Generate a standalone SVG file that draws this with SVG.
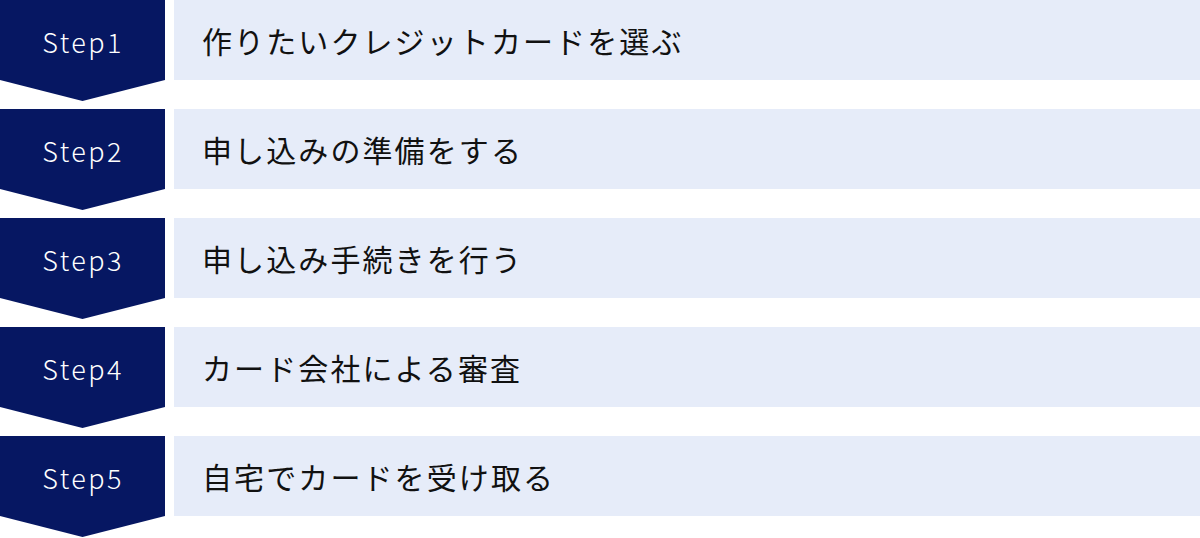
<svg xmlns="http://www.w3.org/2000/svg" width="1200" height="538" viewBox="0 0 1200 538">
<style>
.badge{fill:#061762}
.bar{fill:#E6ECF9}
.step{font-family:"Noto Sans CJK JP","Noto Sans",sans-serif;font-size:27px;font-weight:300;fill:#ffffff;letter-spacing:2.4px;text-anchor:middle;dominant-baseline:central}
.label{font-family:"Noto Sans CJK JP","Noto Sans",sans-serif;font-size:30px;fill:#111111;letter-spacing:2.1px;dominant-baseline:central}
</style>
<defs>
<polygon id="chev" points="0,0 165,0 165,80 82.5,101 0,80"/>
</defs>
<g id="step1" transform="translate(0,0)">
<use href="#chev" class="badge"/>
<rect class="bar" x="174" y="0" width="1026" height="80"/>
<text class="step" x="83" y="41">Step1</text>
<text class="label" x="202" y="40">作りたいクレジットカードを選ぶ</text>
</g>
<g id="step2" transform="translate(0,109)">
<use href="#chev" class="badge"/>
<rect class="bar" x="174" y="0" width="1026" height="80"/>
<text class="step" x="83" y="41">Step2</text>
<text class="label" x="202" y="40">申し込みの準備をする</text>
</g>
<g id="step3" transform="translate(0,218)">
<use href="#chev" class="badge"/>
<rect class="bar" x="174" y="0" width="1026" height="80"/>
<text class="step" x="83" y="41">Step3</text>
<text class="label" x="202" y="40">申し込み手続きを行う</text>
</g>
<g id="step4" transform="translate(0,327)">
<use href="#chev" class="badge"/>
<rect class="bar" x="174" y="0" width="1026" height="80"/>
<text class="step" x="83" y="41">Step4</text>
<text class="label" x="202" y="40">カード会社による審査</text>
</g>
<g id="step5" transform="translate(0,436)">
<use href="#chev" class="badge"/>
<rect class="bar" x="174" y="0" width="1026" height="80"/>
<text class="step" x="83" y="41">Step5</text>
<text class="label" x="202" y="40">自宅でカードを受け取る</text>
</g>
</svg>
